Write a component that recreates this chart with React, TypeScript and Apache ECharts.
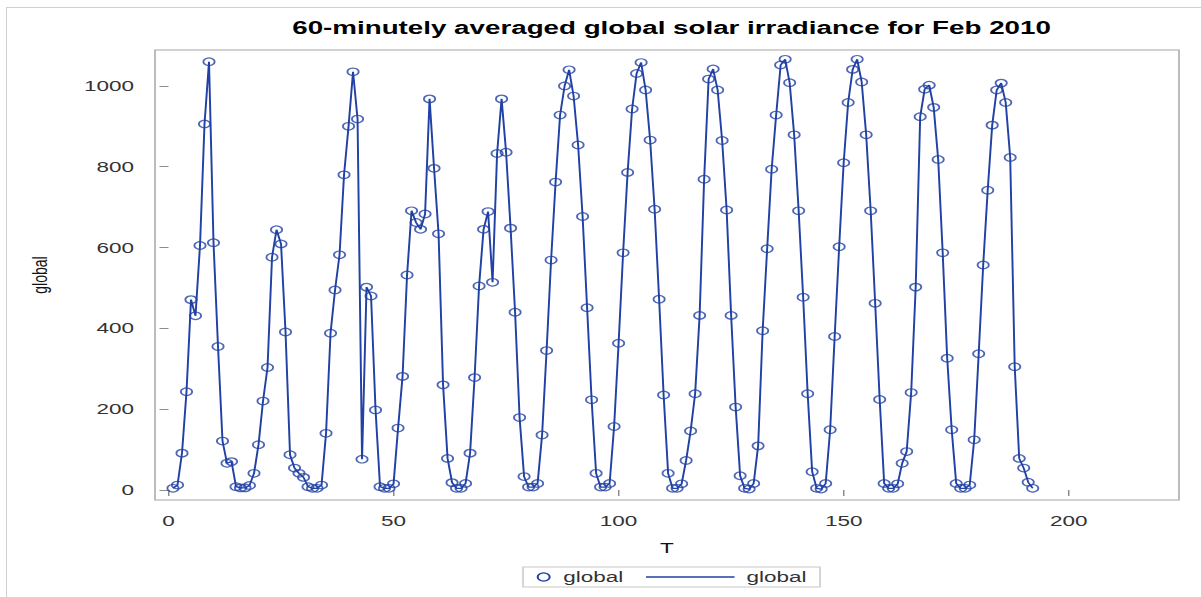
import { useEffect, useRef } from 'react';
import * as echarts from 'echarts';

// Hourly (60-minute average) global solar irradiance, T = 1 .. 192
const chartTitle = '60-minutely averaged global solar irradiance for Feb 2010';
const xTickValues = [0, 50, 100, 150, 200];
const yTickValues = [0, 200, 400, 600, 800, 1000];

const globalIrradiance = [
  4, 12, 91, 243, 471, 431, 605, 906, 1060, 612, 355, 121, 66, 70, 8, 5,
  5, 11, 41, 112, 220, 303, 576, 644, 609, 391, 87, 54, 41, 31, 8, 4,
  4, 12, 140, 388, 495, 582, 780, 900, 1035, 918, 76, 502, 480, 198, 8, 4,
  4, 15, 153, 281, 532, 691, 662, 645, 683, 968, 796, 634, 260, 78, 18, 4,
  4, 16, 91, 278, 505, 645, 689, 514, 833, 968, 836, 648, 440, 179, 33, 7,
  7, 16, 136, 345, 569, 762, 928, 1000, 1040, 975, 854, 677, 451, 223, 41, 7,
  7, 16, 157, 363, 587, 786, 943, 1031, 1058, 990, 866, 695, 472, 235, 41, 4,
  4, 15, 73, 146, 238, 432, 769, 1017, 1042, 990, 865, 693, 432, 205, 35, 4,
  2, 16, 109, 394, 597, 794, 928, 1052, 1066, 1008, 879, 691, 477, 238, 45, 4,
  2, 16, 149, 380, 602, 810, 959, 1041, 1066, 1010, 879, 691, 462, 224, 16, 4,
  4, 15, 66, 95, 241, 502, 924, 992, 1002, 947, 818, 587, 326, 149, 16, 4,
  4, 12, 124, 337, 557, 742, 903, 990, 1007, 959, 823, 305, 78, 54, 19, 4,
];

const hourIndex = globalIrradiance.map((_, i) => i + 1);

const FONT = '"Liberation Sans", Arial, sans-serif';
const BLUE = '#2141a4';
const FRAME = '#a6a6a6';

const plainNumber = (v: number) => String(v);

export default function App() {
  const ref = useRef<HTMLDivElement>(null);

  useEffect(() => {
    if (!ref.current) return;
    const chart = echarts.init(ref.current, null, { renderer: 'svg', width: 800, height: 597 });
    const points = hourIndex.map((t, i) => [t, globalIrradiance[i]]);

    chart.setOption({
      animation: false,
      backgroundColor: 'transparent',
      title: {
        text: chartTitle,
        left: 447.7,
        top: 18,
        textAlign: 'center',
        padding: 0,
        textStyle: { fontFamily: FONT, fontSize: 18.5, fontWeight: 'bold', color: '#000' },
      },
      grid: {
        left: 103.33,
        right: 14,
        top: 50,
        bottom: 97,
        show: true,
        borderColor: FRAME,
        borderWidth: 1,
        backgroundColor: 'transparent',
        containLabel: false,
        outerBoundsMode: 'none',
      },
      xAxis: {
        type: 'value',
        min: -3,
        max: 224.5,
        name: 'T',
        nameLocation: 'middle',
        nameGap: 40,
        nameTextStyle: { fontFamily: FONT, fontSize: 15, color: '#111' },
        axisLine: { show: false },
        axisTick: { show: true, length: 6, customValues: xTickValues, lineStyle: { color: '#8c8c8c' } },
        axisLabel: {
          customValues: xTickValues,
          formatter: plainNumber,
          margin: 13,
          fontFamily: FONT,
          fontSize: 15,
          color: '#333',
        },
        splitLine: { show: false },
      },
      yAxis: {
        type: 'value',
        min: -25,
        max: 1089,
        name: 'global',
        nameLocation: 'middle',
        nameGap: 70,
        nameTextStyle: { fontFamily: FONT, fontSize: 14, color: '#111' },
        axisLine: { show: false },
        axisTick: { show: true, length: 6, customValues: yTickValues, lineStyle: { color: '#8c8c8c' } },
        axisLabel: {
          customValues: yTickValues,
          formatter: plainNumber,
          margin: 14,
          fontFamily: FONT,
          fontSize: 15,
          color: '#333',
        },
        splitLine: { show: false },
      },
      legend: [
        {
          left: 357.8,
          top: 569.5,
          padding: 0,
          selectedMode: false,
          itemWidth: 8,
          itemHeight: 8,
          data: [
            {
              name: 'global',
              icon: 'circle',
              itemStyle: { color: '#fff', borderColor: BLUE, borderWidth: 1.3 },
            },
          ],
          textStyle: { fontFamily: FONT, fontSize: 15, color: '#333', padding: [0, 0, 0, 4] },
        },
        {
          left: 430.7,
          top: 569.5,
          padding: 0,
          selectedMode: false,
          itemWidth: 59,
          itemHeight: 1.3,
          data: [
            {
              name: 'global',
              icon: 'rect',
              itemStyle: { color: BLUE, borderWidth: 0 },
            },
          ],
          textStyle: { fontFamily: FONT, fontSize: 15, color: '#333', padding: [0, 0, 0, 3] },
        },
      ],
      graphic: [
        {
          type: 'rect',
          shape: { x: 348.7, y: 567, width: 198, height: 20 },
          style: { fill: '#fff', stroke: '#c8c8c8', lineWidth: 1 },
          silent: true,
        },
      ],
      series: [
        {
          type: 'line',
          name: 'global',
          data: points,
          symbol: 'none',
          smooth: false,
          lineStyle: { color: BLUE, width: 1.3 },
          itemStyle: { color: BLUE },
          z: 2,
        },
        {
          type: 'scatter',
          name: 'global',
          data: points,
          symbol: 'circle',
          symbolSize: 7.5,
          itemStyle: { color: 'rgba(255,255,255,0)', borderColor: BLUE, borderWidth: 1.2 },
          z: 3,
        },
      ],
    });

    return () => chart.dispose();
  }, []);

  return (
    <div
      style={{
        position: 'fixed',
        left: 0,
        top: 0,
        width: 1201,
        height: 597,
        overflow: 'hidden',
        background: '#fff',
      }}
    >
      <div
        style={{
          position: 'absolute',
          left: 6,
          top: 7,
          width: 1300,
          height: 700,
          borderLeft: '1px solid #d0d0d0',
          borderTop: '1px solid #d0d0d0',
        }}
      />
      <div
        ref={ref}
        style={{
          position: 'absolute',
          left: 0,
          top: 0,
          width: 800,
          height: 597,
          transform: 'scaleX(1.5)',
          transformOrigin: '0 0',
        }}
      />
    </div>
  );
}
